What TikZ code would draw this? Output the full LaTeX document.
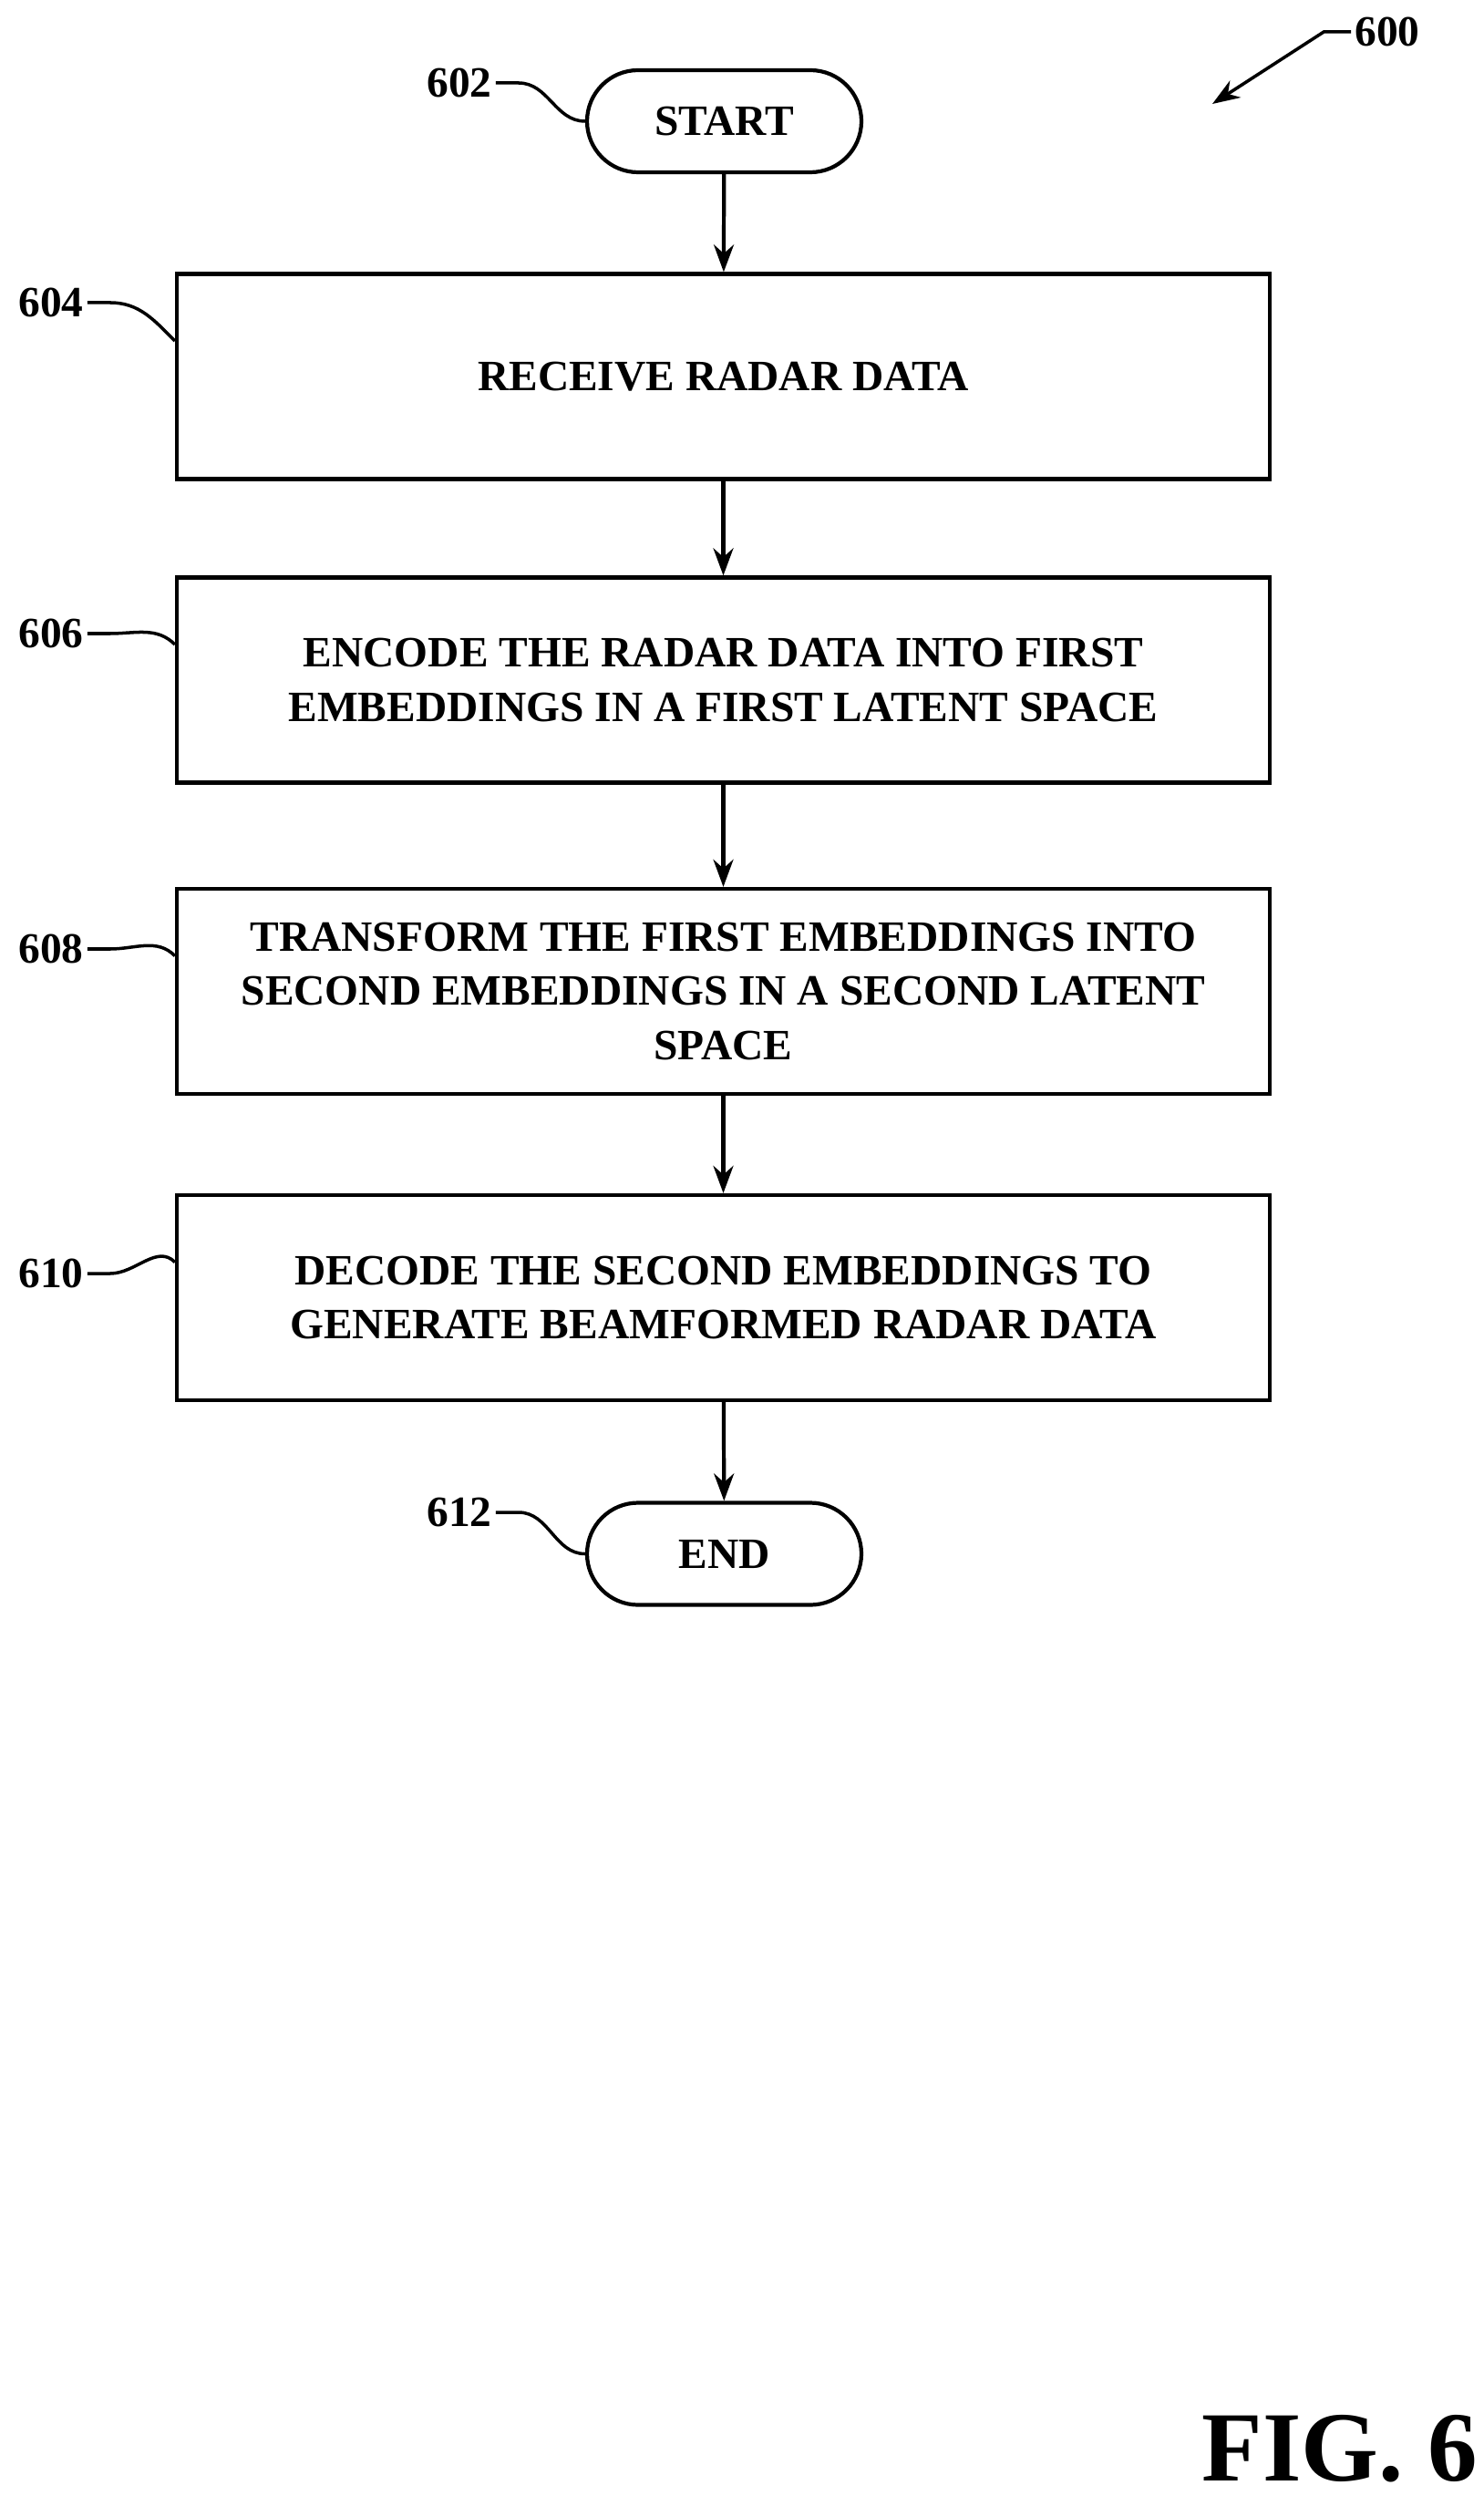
\documentclass[tikz,border=0pt]{standalone}
\usepackage{fontspec}
\setmainfont{Liberation Serif}
\usetikzlibrary{arrows.meta,positioning,calc}

\tikzset{
  procbox/.style={draw,line width=1.2pt,minimum width=11.99cm,minimum height=2.25cm,
    align=center,font=\bfseries\fontsize{13.5}{17}\selectfont,inner sep=2pt},
  term/.style={draw,line width=1.2pt,rounded corners=0.56cm,minimum width=3.01cm,
    minimum height=1.12cm,font=\bfseries\fontsize{13.5}{17}\selectfont},
  flow/.style={line width=1.2pt,-{Stealth[length=0.3cm,width=0.22cm]}},
  num/.style={font=\bfseries\fontsize{13.5}{17}\selectfont,inner sep=1pt},
  lead/.style={line width=1pt}
}

\begin{document}
\begin{tikzpicture}
  \useasboundingbox (0,0) rectangle (16.27,-27.49);
  % flow
  \node[term] (start) at (7.945,-1.33) {START};
  \node[procbox] (recv) at (7.935,-4.13) {RECEIVE RADAR DATA};
  \node[procbox] (enc) at (7.935,-7.46) {ENCODE THE RADAR DATA INTO FIRST\\EMBEDDINGS IN A FIRST LATENT SPACE};
  \node[procbox] (xform) at (7.935,-10.875) {TRANSFORM THE FIRST EMBEDDINGS INTO\\SECOND EMBEDDINGS IN A SECOND LATENT\\SPACE};
  \node[procbox] (dec) at (7.935,-14.235) {DECODE THE SECOND EMBEDDINGS TO\\GENERATE BEAMFORMED RADAR DATA};
  \node[term] (end) at (7.945,-17.045) {END};
  \draw[flow] (start) -- (recv);
  \draw[flow] (recv) -- (enc);
  \draw[flow] (enc) -- (xform);
  \draw[flow] (xform) -- (dec);
  \draw[flow] (dec) -- (end);
  % reference numerals
  \node[num] (n602) at (5.04,-0.91) {602};
  \node[num] (n604) at (0.56,-3.32) {604};
  \node[num] (n606) at (0.56,-6.95) {606};
  \node[num] (n608) at (0.56,-10.41) {608};
  \node[num] (n610) at (0.56,-13.97) {610};
  \node[num] (n612) at (5.04,-16.59) {612};
  \draw[lead] (n602.east) -- ++(0.25,0) to[out=0,in=180] (start.west);
  \draw[lead] (n604.east) -- ++(0.25,0) to[out=0,in=135] ($(recv.north west)!0.33!(recv.south west)$);
  \draw[lead] (n606.east) -- ++(0.25,0) to[out=0,in=135] ($(enc.north west)!0.33!(enc.south west)$);
  \draw[lead] (n608.east) -- ++(0.25,0) to[out=0,in=135] ($(xform.north west)!0.33!(xform.south west)$);
  \draw[lead] (n610.east) -- ++(0.25,0) to[out=0,in=135] ($(dec.north west)!0.33!(dec.south west)$);
  \draw[lead] (n612.east) -- ++(0.25,0) to[out=0,in=180] (end.west);
  % figure number
  \node[num] (n600) at (15.22,-0.35) {600};
  \coordinate (tip600) at (13.30,-1.14);
  \draw[lead,-{Stealth[length=0.3cm,width=0.22cm]}] (n600.west) -- ++(-0.3,0) -- (tip600);
  \node[font=\bfseries\fontsize{31}{36}\selectfont] (fig) at (14.70,-26.86) {FIG. 6};
\end{tikzpicture}
\end{document}
